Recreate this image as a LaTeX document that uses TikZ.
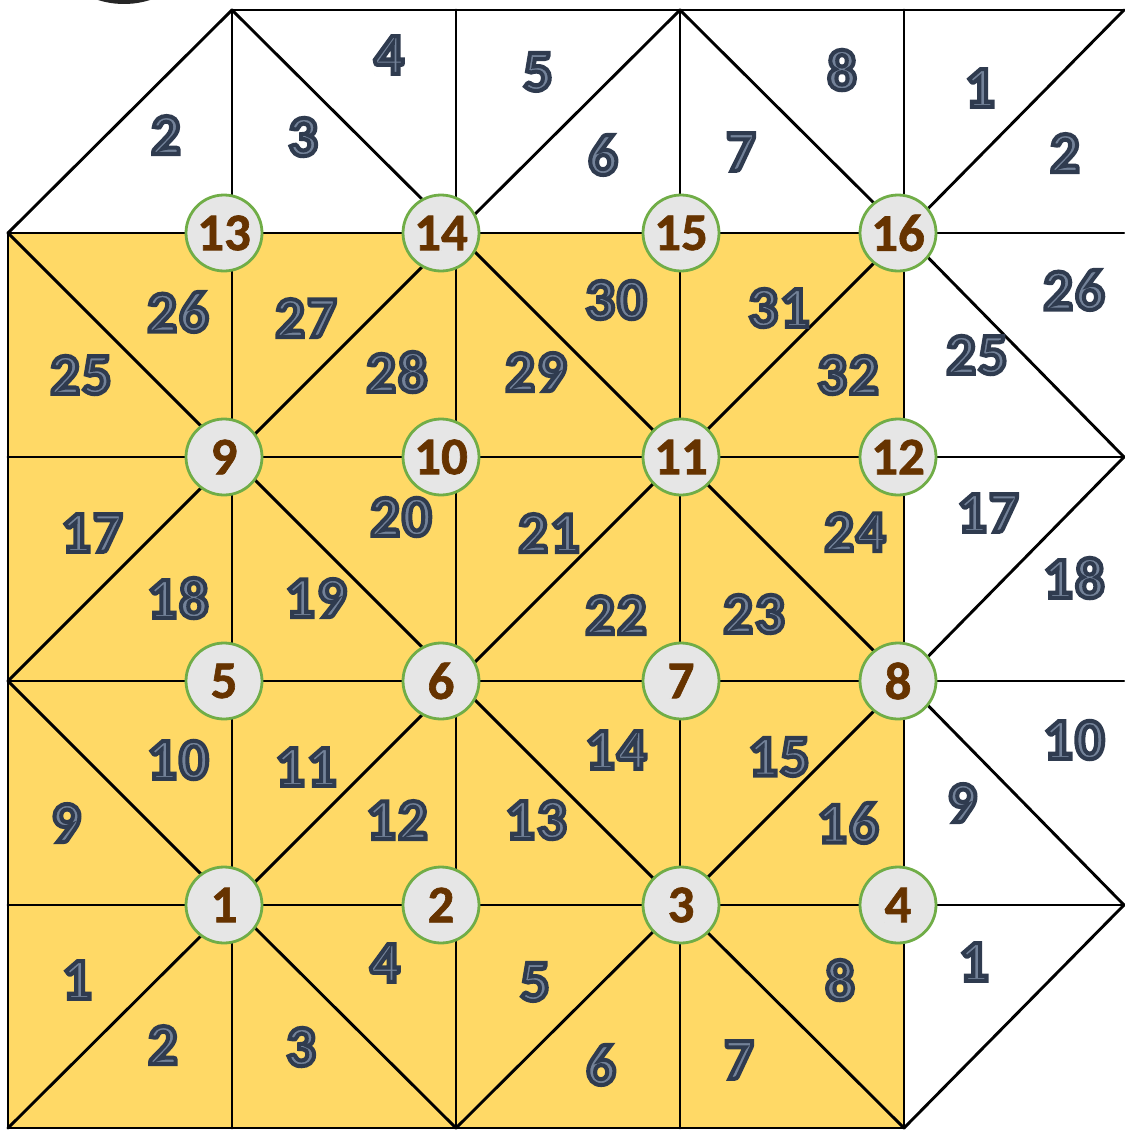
\documentclass[tikz,border=0pt]{standalone}
\usepackage{fontspec}
\setmainfont{Carlito}
\newfontfamily\lblfont[FakeBold=7, LetterSpace=4]{Carlito Bold}
\newfontfamily\vtxfont[FakeBold=1.2]{Carlito Bold}
\definecolor{tileyellow}{HTML}{FFD966}
\definecolor{nodegray}{HTML}{E6E6E6}
\definecolor{nodegreen}{HTML}{70AD47}
\definecolor{nodebrown}{HTML}{663300}
\definecolor{lblslate}{HTML}{2F3B4F}
% fill the label glyphs lighter while their FakeBold stroke stays dark
\newcommand{\pcl}[1]{\special{pdf:code 0.45 0.51 0.60 rg}#1}
\tikzset{
  gridline/.style={draw=black, line width=2.9pt, line cap=round, line join=round},
  vertexnode/.style={circle, fill=nodegray, draw=nodegreen, line width=2.8pt, minimum size=76pt, inner sep=0pt,
    text=nodebrown, font=\fontsize{53}{53}\selectfont\vtxfont},
  piecelabel/.style={inner sep=0pt, text=lblslate, font=\fontsize{58}{58}\selectfont\lblfont}
}
\begin{document}
\begin{tikzpicture}[x=1pt,y=-1pt]
\useasboundingbox (0,0) rectangle (1124,1132);
% grid coordinates
\foreach \xv [count=\i from 0] in {8,232,456,680,904,1124}{
  \foreach \yv [count=\j from 0] in {10,233,457,681,905,1128}{
    \coordinate (g\i\j) at (\xv,\yv);
  }
}
% cropped dark blob at top
\begin{scope}
\clip (0,0) rectangle (1124,1132);
\fill[black!85] (124,-82.5) circle (86.5);
\end{scope}
% yellow square
\fill[tileyellow] (g01) rectangle (g45);
% straight lines
\draw[gridline] (g10) -- (g50);
\foreach \j in {1,2,3,4}{ \draw[gridline] (g0\j) -- (g5\j); }
\draw[gridline] (g05) -- (g45);
\draw[gridline] (g01) -- (g05);
\foreach \i in {1,2,3,4}{ \draw[gridline] (g\i0) -- (g\i5); }
% diagonals: top row (white)
\draw[gridline] (g01) -- (g10);
\draw[gridline] (g10) -- (g21);
\draw[gridline] (g21) -- (g30);
\draw[gridline] (g30) -- (g41);
\draw[gridline] (g41) -- (g50);
% right column (white)
\draw[gridline] (g41) -- (g52);
\draw[gridline] (g43) -- (g52);
\draw[gridline] (g43) -- (g54);
\draw[gridline] (g45) -- (g54);
% yellow diagonals
\draw[gridline] (g01) -- (g12);
\draw[gridline] (g12) -- (g21);
\draw[gridline] (g21) -- (g32);
\draw[gridline] (g32) -- (g41);
\draw[gridline] (g03) -- (g12);
\draw[gridline] (g12) -- (g23);
\draw[gridline] (g23) -- (g32);
\draw[gridline] (g32) -- (g43);
\draw[gridline] (g03) -- (g14);
\draw[gridline] (g14) -- (g23);
\draw[gridline] (g23) -- (g34);
\draw[gridline] (g34) -- (g43);
\draw[gridline] (g05) -- (g14);
\draw[gridline] (g14) -- (g25);
\draw[gridline] (g25) -- (g34);
\draw[gridline] (g34) -- (g45);
% vertex circles
\foreach \yv [count=\r from 0] in {905,681,457,233}{
  \foreach \xv [count=\c from 1] in {224,441,681,898}{
    \pgfmathtruncatemacro{\n}{4*\r+\c}
    \node[vertexnode] (v\n) at (\xv,\yv) {\n};
  }
}
% labels: top row
\node[piecelabel] (t2a) at (166,135) {\pcl{2}};
\node[piecelabel] (t3) at (303,137) {\pcl{3}};
\node[piecelabel] (t4) at (389,55) {\pcl{4}};
\node[piecelabel] (t5) at (538,72) {\pcl{5}};
\node[piecelabel] (t6) at (603,155) {\pcl{6}};
\node[piecelabel] (t7) at (741,152) {\pcl{7}};
\node[piecelabel] (t8) at (842,70) {\pcl{8}};
\node[piecelabel] (t1) at (980,88) {\pcl{1}};
\node[piecelabel] (t2b) at (1065,153) {\pcl{2}};
% labels: right column
\node[piecelabel] (r26) at (1074,290) {\pcl{26}};
\node[piecelabel] (r25) at (977,355) {\pcl{25}};
\node[piecelabel] (r17) at (988,513) {\pcl{17}};
\node[piecelabel] (r18) at (1074,578) {\pcl{18}};
\node[piecelabel] (r10) at (1074,740) {\pcl{10}};
\node[piecelabel] (r9) at (962,803) {\pcl{9}};
\node[piecelabel] (r1) at (974,962) {\pcl{1}};
% labels: yellow
\node[piecelabel] (y25) at (81,375) {\pcl{25}};
\node[piecelabel] (y26) at (178,312) {\pcl{26}};
\node[piecelabel] (y27) at (306,318) {\pcl{27}};
\node[piecelabel] (y28) at (397,372) {\pcl{28}};
\node[piecelabel] (y29) at (536,372) {\pcl{29}};
\node[piecelabel] (y30) at (616,300) {\pcl{30}};
\node[piecelabel] (y31) at (779,308) {\pcl{31}};
\node[piecelabel] (y32) at (848,375) {\pcl{32}};
\node[piecelabel] (y17) at (92,533) {\pcl{17}};
\node[piecelabel] (y18) at (178,598) {\pcl{18}};
\node[piecelabel] (y19) at (316,598) {\pcl{19}};
\node[piecelabel] (y20) at (401,517) {\pcl{20}};
\node[piecelabel] (y21) at (549,533) {\pcl{21}};
\node[piecelabel] (y22) at (616,615) {\pcl{22}};
\node[piecelabel] (y23) at (754,614) {\pcl{23}};
\node[piecelabel] (y24) at (855,532) {\pcl{24}};
\node[piecelabel] (y10) at (178,760) {\pcl{10}};
\node[piecelabel] (y9) at (66,823) {\pcl{9}};
\node[piecelabel] (y11) at (306,767) {\pcl{11}};
\node[piecelabel] (y12) at (397,820) {\pcl{12}};
\node[piecelabel] (y13) at (536,820) {\pcl{13}};
\node[piecelabel] (y14) at (616,750) {\pcl{14}};
\node[piecelabel] (y15) at (779,757) {\pcl{15}};
\node[piecelabel] (y16) at (848,823) {\pcl{16}};
\node[piecelabel] (y1) at (77,980) {\pcl{1}};
\node[piecelabel] (y2) at (163,1045) {\pcl{2}};
\node[piecelabel] (y3) at (301,1047) {\pcl{3}};
\node[piecelabel] (y4) at (385,963) {\pcl{4}};
\node[piecelabel] (y5) at (535,982) {\pcl{5}};
\node[piecelabel] (y6) at (601,1065) {\pcl{6}};
\node[piecelabel] (y7) at (739,1060) {\pcl{7}};
\node[piecelabel] (y8) at (840,980) {\pcl{8}};
\end{tikzpicture}
\end{document}
